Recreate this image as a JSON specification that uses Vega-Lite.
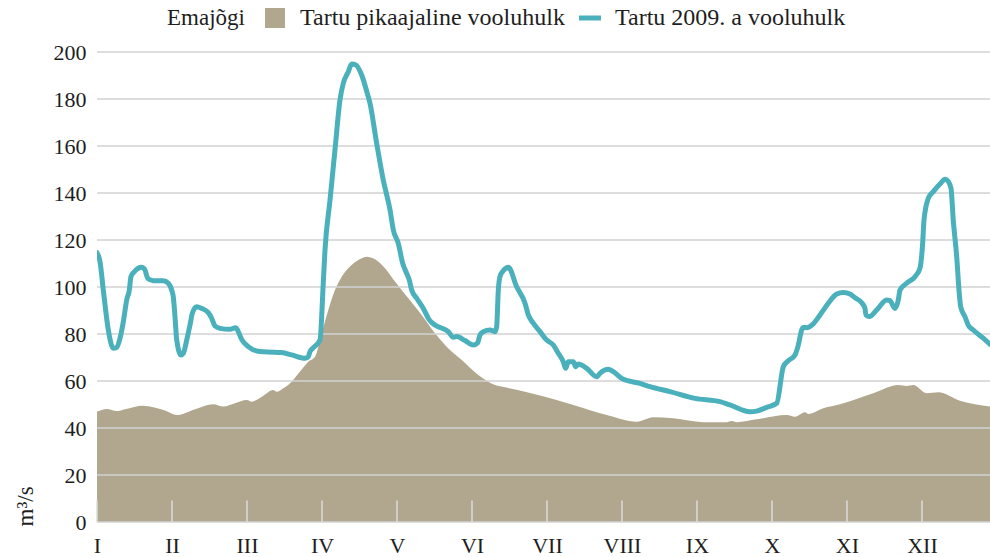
{
  "$schema": "https://vega.github.io/schema/vega-lite/v6.json",
  "width": 893,
  "height": 470,
  "autosize": {"type": "none"},
  "padding": {"left": 97, "top": 52, "right": 0, "bottom": 35},
  "background": "white",
  "config": {
    "view": {"stroke": null},
    "font": "Liberation Serif",
    "axis": {"labelFont": "Liberation Serif", "labelFontSize": 22, "labelColor": "#1e1e1e", "titleFont": "Liberation Serif", "titleFontWeight": "normal", "titleColor": "#1e1e1e"}
  },
  "datasets": {
    "longterm": [
      {"m": 0, "v": 46.9}, {"m": 0.129, "v": 48.1}, {"m": 0.263, "v": 47.2}, {"m": 0.373, "v": 48}, {"m": 0.617, "v": 49.5},
      {"m": 0.751, "v": 48.8}, {"m": 0.907, "v": 47.4}, {"m": 1.063, "v": 45.5}, {"m": 1.307, "v": 48}, {"m": 1.551, "v": 50.1},
      {"m": 1.684, "v": 49.1}, {"m": 1.84, "v": 50.5}, {"m": 1.996, "v": 51.9}, {"m": 2.063, "v": 51.2}, {"m": 2.196, "v": 53.3},
      {"m": 2.351, "v": 56.2}, {"m": 2.396, "v": 55.4}, {"m": 2.484, "v": 56.9}, {"m": 2.596, "v": 59.7}, {"m": 2.707, "v": 64},
      {"m": 2.817, "v": 68.2}, {"m": 2.907, "v": 70.3}, {"m": 2.996, "v": 80.3}, {"m": 3.084, "v": 90.2}, {"m": 3.173, "v": 98.7},
      {"m": 3.263, "v": 104.4}, {"m": 3.396, "v": 109.4}, {"m": 3.529, "v": 112.2}, {"m": 3.596, "v": 112.9}, {"m": 3.707, "v": 111.8},
      {"m": 3.84, "v": 108}, {"m": 3.973, "v": 102.3}, {"m": 4.151, "v": 95.2}, {"m": 4.329, "v": 88.1}, {"m": 4.507, "v": 80.3},
      {"m": 4.64, "v": 75.3}, {"m": 4.863, "v": 68.9}, {"m": 5.084, "v": 62.6}, {"m": 5.307, "v": 58.3}, {"m": 5.44, "v": 57.3},
      {"m": 5.707, "v": 55.4}, {"m": 5.973, "v": 53.3}, {"m": 6.351, "v": 49.8}, {"m": 6.796, "v": 45.5}, {"m": 7.196, "v": 42.7},
      {"m": 7.417, "v": 44.6}, {"m": 7.684, "v": 44.1}, {"m": 8.084, "v": 42.5}, {"m": 8.396, "v": 42.5}, {"m": 8.463, "v": 43},
      {"m": 8.529, "v": 42.5}, {"m": 8.796, "v": 43.7}, {"m": 9.196, "v": 45.5}, {"m": 9.307, "v": 44.8}, {"m": 9.44, "v": 46.7},
      {"m": 9.484, "v": 46}, {"m": 9.684, "v": 48.4}, {"m": 9.907, "v": 50.1}, {"m": 10.351, "v": 54.8}, {"m": 10.684, "v": 58.3},
      {"m": 10.796, "v": 57.9}, {"m": 10.884, "v": 58.3}, {"m": 11.062, "v": 54.8}, {"m": 11.217, "v": 55.2}, {"m": 11.507, "v": 51.6},
      {"m": 11.907, "v": 49.1}
    ],
    "y2009": [
      {"m": 0, "v": 114.6}, {"m": 0.04, "v": 110.8}, {"m": 0.084, "v": 98.7}, {"m": 0.151, "v": 81.7}, {"m": 0.217, "v": 73.9},
      {"m": 0.263, "v": 74.3}, {"m": 0.307, "v": 78.2}, {"m": 0.351, "v": 85.2}, {"m": 0.396, "v": 94.5}, {"m": 0.431, "v": 98.7},
      {"m": 0.453, "v": 104.4}, {"m": 0.497, "v": 106.5}, {"m": 0.596, "v": 108.4}, {"m": 0.64, "v": 107.2}, {"m": 0.676, "v": 103.7},
      {"m": 0.751, "v": 102.7}, {"m": 0.884, "v": 102.7}, {"m": 0.951, "v": 101.6}, {"m": 0.996, "v": 98.7}, {"m": 1.017, "v": 95.9},
      {"m": 1.04, "v": 87.4}, {"m": 1.063, "v": 77.4}, {"m": 1.12, "v": 71.1}, {"m": 1.151, "v": 71.8}, {"m": 1.196, "v": 77.4},
      {"m": 1.24, "v": 83.8}, {"m": 1.271, "v": 88.8}, {"m": 1.329, "v": 91.6}, {"m": 1.396, "v": 90.9}, {"m": 1.484, "v": 89.1},
      {"m": 1.529, "v": 86.7}, {"m": 1.573, "v": 83.4}, {"m": 1.64, "v": 82.4}, {"m": 1.773, "v": 82}, {"m": 1.849, "v": 82.7},
      {"m": 1.884, "v": 81}, {"m": 1.929, "v": 77.7}, {"m": 2.017, "v": 74.6}, {"m": 2.129, "v": 72.8}, {"m": 2.373, "v": 72.2},
      {"m": 2.463, "v": 72.1}, {"m": 2.596, "v": 71.1}, {"m": 2.773, "v": 69.7}, {"m": 2.817, "v": 70.3}, {"m": 2.84, "v": 72.5},
      {"m": 2.876, "v": 73.9}, {"m": 2.973, "v": 77.4}, {"m": 3.017, "v": 101.6}, {"m": 3.04, "v": 115.7}, {"m": 3.107, "v": 137},
      {"m": 3.173, "v": 158.3}, {"m": 3.24, "v": 179.6}, {"m": 3.284, "v": 186.7}, {"m": 3.351, "v": 191.6}, {"m": 3.396, "v": 194.9},
      {"m": 3.453, "v": 194.5}, {"m": 3.529, "v": 190.2}, {"m": 3.604, "v": 182.4}, {"m": 3.64, "v": 178.2}, {"m": 3.729, "v": 161.1},
      {"m": 3.817, "v": 145.5}, {"m": 3.907, "v": 132.8}, {"m": 3.951, "v": 124.3}, {"m": 4.017, "v": 118.6}, {"m": 4.076, "v": 110.1},
      {"m": 4.129, "v": 105.8}, {"m": 4.164, "v": 103}, {"m": 4.196, "v": 98.7}, {"m": 4.263, "v": 95.2}, {"m": 4.351, "v": 90.9},
      {"m": 4.431, "v": 86}, {"m": 4.507, "v": 83.8}, {"m": 4.684, "v": 81}, {"m": 4.751, "v": 78.6}, {"m": 4.796, "v": 78.9},
      {"m": 4.907, "v": 77.2}, {"m": 5.017, "v": 75.3}, {"m": 5.076, "v": 76.3}, {"m": 5.107, "v": 79.6}, {"m": 5.151, "v": 81},
      {"m": 5.24, "v": 81.7}, {"m": 5.307, "v": 81}, {"m": 5.329, "v": 83.1}, {"m": 5.351, "v": 98.7}, {"m": 5.373, "v": 104.4},
      {"m": 5.417, "v": 106.9}, {"m": 5.484, "v": 108.4}, {"m": 5.596, "v": 100.1}, {"m": 5.707, "v": 93.1}, {"m": 5.751, "v": 88.1},
      {"m": 5.817, "v": 84.6}, {"m": 5.907, "v": 81}, {"m": 5.996, "v": 77.4}, {"m": 6.084, "v": 75.3}, {"m": 6.151, "v": 71.8},
      {"m": 6.217, "v": 68.2}, {"m": 6.249, "v": 65.4}, {"m": 6.284, "v": 68.2}, {"m": 6.351, "v": 68.2}, {"m": 6.383, "v": 66.1},
      {"m": 6.417, "v": 67.2}, {"m": 6.529, "v": 65.4}, {"m": 6.663, "v": 61.8}, {"m": 6.707, "v": 63.3}, {"m": 6.817, "v": 65},
      {"m": 6.884, "v": 64}, {"m": 7.017, "v": 60.7}, {"m": 7.24, "v": 59}, {"m": 7.373, "v": 57.6}, {"m": 7.64, "v": 55.5},
      {"m": 7.973, "v": 52.6}, {"m": 8.307, "v": 51.2}, {"m": 8.44, "v": 49.8}, {"m": 8.707, "v": 46.9}, {"m": 8.796, "v": 47.2},
      {"m": 8.929, "v": 48.8}, {"m": 9.063, "v": 50.5}, {"m": 9.151, "v": 66.1}, {"m": 9.217, "v": 68.6}, {"m": 9.307, "v": 71.1},
      {"m": 9.351, "v": 75.3}, {"m": 9.396, "v": 81.7}, {"m": 9.417, "v": 82.8}, {"m": 9.463, "v": 82.7}, {"m": 9.543, "v": 84.1},
      {"m": 9.64, "v": 88.1}, {"m": 9.751, "v": 93.1}, {"m": 9.863, "v": 97}, {"m": 9.951, "v": 97.7}, {"m": 10.04, "v": 97},
      {"m": 10.107, "v": 95.4}, {"m": 10.196, "v": 93.3}, {"m": 10.24, "v": 90.9}, {"m": 10.253, "v": 88.1}, {"m": 10.297, "v": 87.4},
      {"m": 10.396, "v": 90.2}, {"m": 10.529, "v": 94.5}, {"m": 10.573, "v": 94.2}, {"m": 10.64, "v": 90.9}, {"m": 10.684, "v": 94.5},
      {"m": 10.707, "v": 98.7}, {"m": 10.796, "v": 101.6}, {"m": 10.907, "v": 104.4}, {"m": 10.973, "v": 108}, {"m": 11.009, "v": 118.6},
      {"m": 11.027, "v": 128.5}, {"m": 11.084, "v": 137.7}, {"m": 11.151, "v": 140.6}, {"m": 11.24, "v": 143.8}, {"m": 11.307, "v": 145.8},
      {"m": 11.351, "v": 144.9}, {"m": 11.387, "v": 142}, {"m": 11.417, "v": 128.5}, {"m": 11.463, "v": 112.9}, {"m": 11.497, "v": 97.3},
      {"m": 11.516, "v": 91.6}, {"m": 11.573, "v": 87.4}, {"m": 11.617, "v": 83.8}, {"m": 11.684, "v": 81.7}, {"m": 11.817, "v": 78.2},
      {"m": 11.907, "v": 75.6}
    ],
    "grid": [{"g": 0}, {"g": 20}, {"g": 40}, {"g": 60}, {"g": 80}, {"g": 100}, {"g": 120}, {"g": 140}, {"g": 160}, {"g": 180}, {"g": 200}],
    "months": [{"mo": 0}, {"mo": 1}, {"mo": 2}, {"mo": 3}, {"mo": 4}, {"mo": 5}, {"mo": 6}, {"mo": 7}, {"mo": 8}, {"mo": 9}, {"mo": 10}, {"mo": 11}]
  },
  "layer": [
    {
      "data": {"name": "longterm"},
      "mark": {"type": "area", "interpolate": "monotone", "opacity": 1},
      "encoding": {
        "x": {
          "field": "m", "type": "quantitative",
          "scale": {"domain": [0, 11.907], "nice": false, "zero": false},
          "axis": {
            "title": null, "values": [0, 1, 2, 3, 4, 5, 6, 7, 8, 9, 10, 11],
            "labelExpr": "['I','II','III','IV','V','VI','VII','VIII','IX','X','XI','XII'][datum.value]",
            "labelFlush": false, "labelAlign": "center", "labelPadding": 13,
            "grid": false, "domain": false, "ticks": false
          }
        },
        "y": {
          "field": "v", "type": "quantitative",
          "scale": {"domain": [0, 200], "nice": false},
          "axis": {
            "title": "m³/s", "titleFontSize": 23, "titleAngle": -90, "titleX": -72, "titleY": 474,
            "titleAlign": "left", "titleBaseline": "middle",
            "values": [0, 20, 40, 60, 80, 100, 120, 140, 160, 180, 200],
            "grid": false, "domain": false, "ticks": false, "labelPadding": 11
          }
        },
        "color": {
          "datum": "Tartu pikaajaline vooluhulk",
          "scale": {"domain": ["Tartu pikaajaline vooluhulk", "Tartu 2009. a vooluhulk"], "range": ["#b0a78e", "#4ab0bc"]},
          "legend": {
            "orient": "none", "legendX": 70, "legendY": -46, "direction": "horizontal",
            "title": "Emajõgi", "titleOrient": "left", "titlePadding": 18,
            "titleFont": "Liberation Serif", "titleFontSize": 23, "titleFontWeight": "normal", "titleColor": "#1e1e1e",
            "labelFont": "Liberation Serif", "labelFontSize": 24, "labelColor": "#1e1e1e", "labelLimit": 500,
            "symbolSize": 400, "labelOffset": 13, "columnPadding": 13, "symbolOpacity": 1,
            "encode": {
              "symbols": {
                "update": {
                  "shape": {"signal": "datum.value == 'Tartu pikaajaline vooluhulk' ? 'square' : 'M-1.1,-0.25H1.1V0.25H-1.1Z'"},
                  "fill": {"signal": "datum.value == 'Tartu pikaajaline vooluhulk' ? '#b0a78e' : '#4ab0bc'"},
                  "stroke": {"value": "transparent"},
                  "strokeWidth": {"value": 0},
                  "opacity": {"value": 1}
                }
              }
            }
          }
        }
      }
    },
    {
      "data": {"name": "grid"},
      "mark": {"type": "rule", "color": "#d2d2d2", "strokeWidth": 1.5},
      "encoding": {"y": {"field": "g", "type": "quantitative"}}
    },
    {
      "data": {"name": "months"},
      "mark": {"type": "rule", "color": "#dcdcdc", "strokeWidth": 1.5},
      "encoding": {
        "x": {"field": "mo", "type": "quantitative"},
        "y": {"datum": 0},
        "y2": {"datum": 9.2}
      }
    },
    {
      "data": {"name": "y2009"},
      "mark": {"type": "line", "interpolate": "monotone", "strokeWidth": 5, "strokeCap": "round", "strokeJoin": "round", "clip": true},
      "encoding": {
        "x": {"field": "m", "type": "quantitative"},
        "y": {"field": "v", "type": "quantitative"},
        "color": {"datum": "Tartu 2009. a vooluhulk"}
      }
    }
  ]
}
